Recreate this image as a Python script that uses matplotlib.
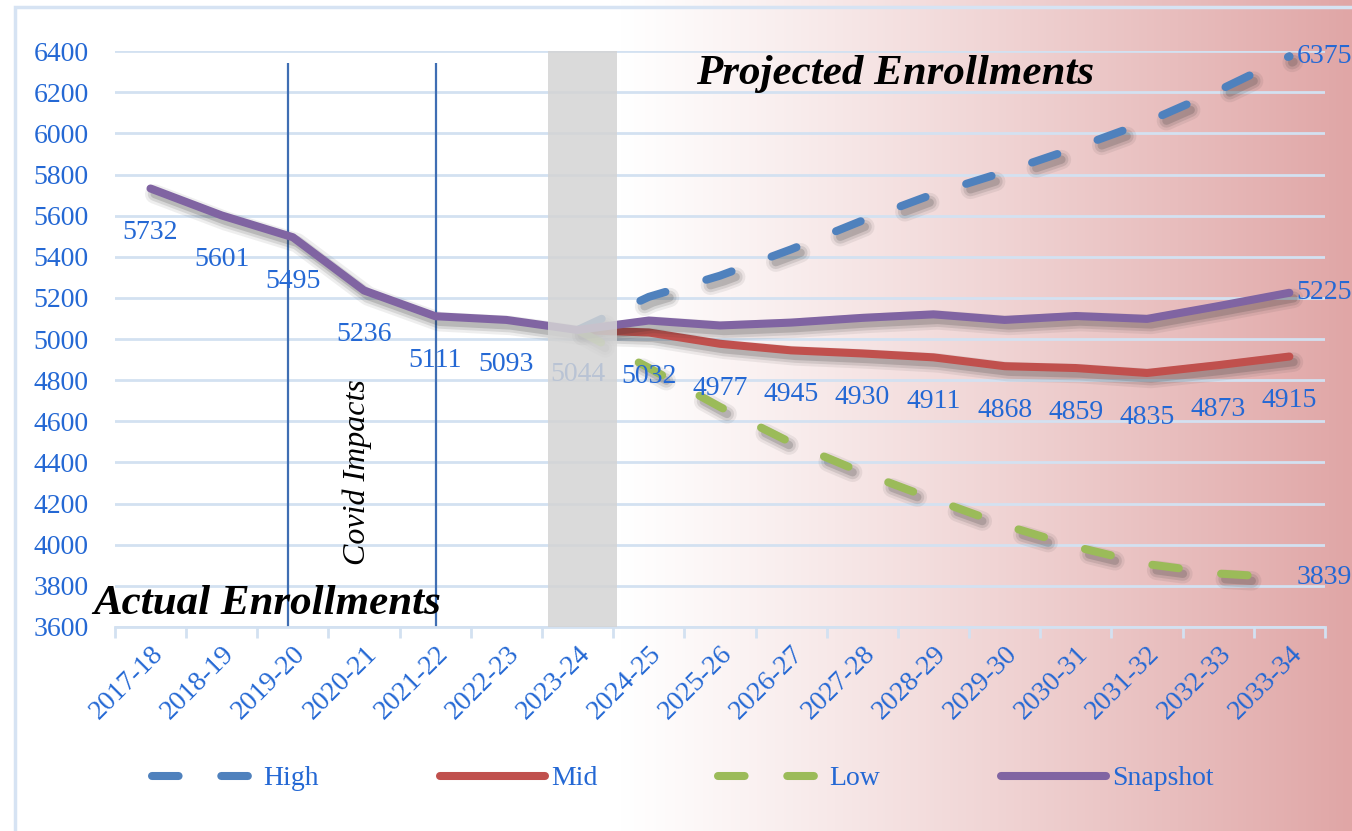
import matplotlib.pyplot as plt
import matplotlib.patheffects as pe
import numpy as np
from matplotlib.lines import Line2D
from matplotlib.patches import Rectangle
from matplotlib.transforms import ScaledTranslation

# School years on the x axis
years = ["2017-18", "2018-19", "2019-20", "2020-21", "2021-22", "2022-23",
         "2023-24", "2024-25", "2025-26", "2026-27", "2027-28", "2028-29",
         "2029-30", "2030-31", "2031-32", "2032-33", "2033-34"]

# Snapshot runs through all years
snapshot = [5732, 5601, 5495, 5236, 5111, 5093, 5044, 5090, 5066, 5080,
            5103, 5120, 5093, 5112, 5098, 5160, 5225]

# Projections start at 2023-24
proj_start = 6
mid = [5044, 5032, 4977, 4945, 4930, 4911, 4868, 4859, 4835, 4873, 4915]
high = [5044, 5205, 5308, 5436, 5576, 5705, 5813, 5930, 6056, 6208, 6375]
low = [5044, 4860, 4670, 4496, 4351, 4221, 4095, 3990, 3906, 3860, 3839]

c_high = "#4F81BD"
c_mid = "#C0504D"
c_low = "#9BBB59"
c_snap = "#8064A2"
c_text = "#2468D4"
c_grid = "#D3E1F1"
serif = "Liberation Serif"
fs = 20
lw = 5.8

fig = plt.figure(figsize=(13.52, 8.31), dpi=100)

# background: white on the left fading to a muted pink on the right
bg = fig.add_axes([0, 0, 1, 1], zorder=-10)
t = np.clip((np.linspace(0, 1, 600) - 0.46) / 0.54, 0, 1) ** 1.1
white = np.array([1.0, 1.0, 1.0])
pink = np.array([224, 166, 166]) / 255
grad = white[None, :] * (1 - t[:, None]) + pink[None, :] * t[:, None]
bg.imshow(grad[None, :, :], aspect="auto", extent=[0, 1, 0, 1])
bg.set_xlim(0, 1)
bg.set_ylim(0, 1)
bg.axis("off")
bg.add_patch(Rectangle((0.011, -0.01), 1.2, 1 - 0.0085 + 0.01, fill=False,
                       edgecolor="#D6E3F3", lw=2.5))

ax = fig.add_axes([0.085, 0.2455, 0.895, 0.693])
ax.set_facecolor("none")

x = np.arange(len(years))
xp = np.arange(proj_start, len(years))

# soft drop shadow: a few widening, fading copies under each line
shadow = [
    pe.SimpleLineShadow(offset=(3, -4), shadow_color="#303030", alpha=0.08, linewidth=14),
    pe.SimpleLineShadow(offset=(3, -4), shadow_color="#303030", alpha=0.12, linewidth=10),
    pe.SimpleLineShadow(offset=(3, -4), shadow_color="#303030", alpha=0.18, linewidth=6),
    pe.Normal(),
]
dash = (0, (3.3, 5.3))

ax.plot(xp, mid, color=c_mid, lw=lw, solid_capstyle="round", path_effects=shadow, zorder=3)
ax.plot(xp, high, color=c_high, lw=lw, ls=dash, dash_capstyle="round", path_effects=shadow, zorder=4)
ax.plot(xp, low, color=c_low, lw=lw, ls=dash, dash_capstyle="round", path_effects=shadow, zorder=4)
ax.plot(x, snapshot, color=c_snap, lw=lw, solid_capstyle="round", solid_joinstyle="round",
        path_effects=shadow, zorder=5)
ax.plot(xp[-1], high[-1], "o", color=c_high, ms=4.5, zorder=6)

# data labels below the actual and mid values
for xi, v in zip(x[:proj_start], snapshot[:proj_start]):
    ax.annotate(str(v), (xi, v), xytext=(0, -32), textcoords="offset points",
                ha="center", va="center", color=c_text, fontsize=fs, family=serif, zorder=6)
for xi, v in zip(xp, mid):
    ax.annotate(str(v), (xi, v), xytext=(0, -32), textcoords="offset points",
                ha="center", va="center", color=c_text, fontsize=fs, family=serif, zorder=6)
for v in (high[-1], snapshot[-1], low[-1]):
    ax.annotate(str(v), (x[-1], v), xytext=(5, 0), textcoords="offset points",
                ha="left", va="center", color=c_text, fontsize=fs, family=serif,
                annotation_clip=False, zorder=6)

# covid markers and current year band
ax.vlines([1.93, 4.01], 3600, 6340, color="#3F6EB3", lw=1.6, zorder=2)
ax.axvspan(5.59, 6.56, color="#D4D4D4", alpha=0.85, lw=0, zorder=7)

ax.text(7.66, 6290, "Projected Enrollments", fontsize=31, family=serif,
        style="italic", weight="bold", ha="left", va="center", zorder=8)
ax.text(-0.81, 3712, "Actual Enrollments", fontsize=31, family=serif,
        style="italic", weight="bold", ha="left", va="center", clip_on=False, zorder=8)
ax.text(2.9, 4351, "Covid Impacts", fontsize=23, family=serif, style="italic",
        rotation=90, ha="center", va="center", zorder=8)

ax.set_xlim(-0.5, len(years) - 0.5)
ax.set_ylim(3600, 6400)
ax.set_yticks(np.arange(3600, 6401, 200))
ax.set_xticks(x)
ax.set_xticklabels(years, rotation=45, ha="right", rotation_mode="anchor")
ax.set_xticks(np.arange(-0.5, len(years)), minor=True)
shift = ScaledTranslation(-3 / 72, 0, fig.dpi_scale_trans)
for lab in ax.get_xticklabels():
    lab.set_transform(lab.get_transform() + shift)
for lab in ax.get_xticklabels() + ax.get_yticklabels():
    lab.set_family(serif)
    lab.set_fontsize(fs)
    lab.set_color(c_text)
ax.tick_params(axis="y", length=0, pad=19)
ax.tick_params(axis="x", which="major", length=0, pad=10)
ax.tick_params(axis="x", which="minor", length=8, width=2, color=c_grid)
ax.yaxis.grid(True, color=c_grid, lw=2)
ax.set_axisbelow(True)
for s in ("left", "right", "top"):
    ax.spines[s].set_visible(False)
ax.spines["bottom"].set_color(c_grid)
ax.spines["bottom"].set_linewidth(2)

handles = [
    Line2D([], [], color=c_high, lw=lw, ls=dash, dash_capstyle="round"),
    Line2D([], [], color=c_mid, lw=lw, solid_capstyle="round"),
    Line2D([], [], color=c_low, lw=lw, ls=dash, dash_capstyle="round"),
    Line2D([], [], color=c_snap, lw=lw, solid_capstyle="round"),
]
fig.legend(handles, ["High", "Mid", "Low", "Snapshot"], loc="center",
           bbox_to_anchor=(0.505, 0.063), ncol=4, frameon=False,
           handlelength=3.8, handletextpad=0.2, columnspacing=4.35,
           prop={"family": serif, "size": fs}, labelcolor=c_text)

fig.savefig("out.png", dpi=100)
